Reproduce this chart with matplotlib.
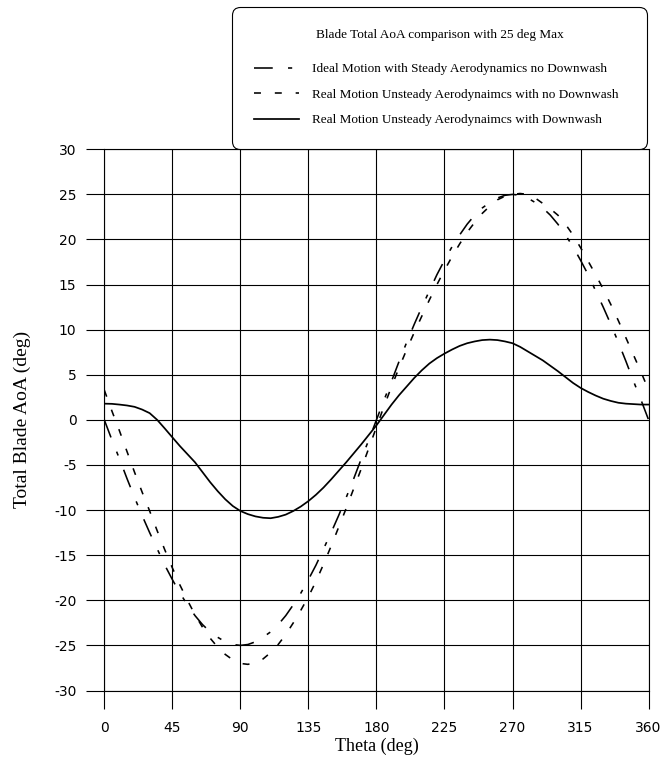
import matplotlib
matplotlib.use("Agg")
import matplotlib.pyplot as plt

plt.rcParams["lines.scale_dashes"] = False

# Rotor azimuth (deg)
theta = [0, 5, 10, 15, 20, 25, 30, 35, 40, 45, 50, 55, 60, 65, 70, 75, 80, 85,
         90, 95, 100, 105, 110, 115, 120, 125, 130, 135, 140, 145, 150, 155,
         160, 165, 170, 175, 180, 185, 190, 195, 200, 205, 210, 215, 220, 225,
         230, 235, 240, 245, 250, 255, 260, 265, 270, 275, 280, 285, 290, 295,
         300, 305, 310, 315, 320, 325, 330, 335, 340, 345, 350, 355, 360]

# Ideal motion, steady aerodynamics, no downwash
aoa_ideal = [0.0, -2.2, -4.3, -6.5, -8.6, -10.6, -12.5, -14.3, -16.1, -17.7,
             -19.2, -20.5, -21.7, -22.7, -23.5, -24.1, -24.6, -24.9, -25.0,
             -24.9, -24.6, -24.1, -23.5, -22.7, -21.7, -20.5, -19.2, -17.7,
             -16.1, -14.3, -12.5, -10.6, -8.6, -6.5, -4.3, -2.2, 0.0, 2.2, 4.3,
             6.5, 8.6, 10.6, 12.5, 14.3, 16.1, 17.7, 19.2, 20.5, 21.7, 22.7,
             23.5, 24.1, 24.6, 24.9, 25.0, 24.9, 24.6, 24.1, 23.5, 22.7, 21.7,
             20.5, 19.2, 17.7, 16.1, 14.3, 12.5, 10.6, 8.6, 6.5, 4.3, 2.2, 0.0]

# Real motion, unsteady aerodynamics, no downwash
aoa_real_nodw = [3.3, 1.0, -1.2, -3.5, -5.8, -8.0, -10.1, -12.3, -14.4, -16.4,
                 -18.3, -20.0, -21.6, -23.0, -24.2, -25.2, -26.0, -26.6, -27.0,
                 -27.1, -26.9, -26.5, -25.8, -24.9, -23.8, -22.5, -21.1, -19.6,
                 -17.9, -16.0, -14.0, -11.9, -9.8, -7.6, -5.4, -3.1, -0.8, 1.5,
                 3.7, 5.8, 7.8, 9.7, 11.5, 13.3, 15.0, 16.6, 18.1, 19.5, 20.8,
                 21.9, 22.9, 23.7, 24.4, 24.8, 25.0, 25.1, 25.0, 24.6, 24.0,
                 23.4, 22.7, 21.7, 20.5, 19.1, 17.6, 16.1, 14.5, 12.8, 11.0,
                 9.1, 7.2, 5.3, 3.3]

# Real motion, unsteady aerodynamics, with downwash
aoa_real_dw = [1.8, 1.78, 1.7, 1.6, 1.45, 1.15, 0.75, 0.0, -0.95, -1.93, -2.9,
               -3.8, -4.7, -5.8, -6.9, -7.9, -8.8, -9.55, -10.1, -10.45, -10.7,
               -10.85, -10.9, -10.75, -10.5, -10.1, -9.6, -9.0, -8.3, -7.5,
               -6.6, -5.65, -4.7, -3.7, -2.7, -1.65, -0.6, 0.55, 1.7, 2.75, 3.7,
               4.65, 5.5, 6.25, 6.85, 7.35, 7.8, 8.2, 8.5, 8.7, 8.85, 8.9, 8.85,
               8.7, 8.5, 8.1, 7.6, 7.1, 6.6, 6.0, 5.4, 4.75, 4.1, 3.55, 3.1,
               2.7, 2.35, 2.1, 1.9, 1.8, 1.75, 1.7, 1.7]

series_labels = [
    "Ideal Motion with Steady Aerodynamics no Downwash",
    "Real Motion Unsteady Aerodynaimcs with no Downwash",
    "Real Motion Unsteady Aerodynaimcs with Downwash",
]
legend_title = "Blade Total AoA comparison with 25 deg Max"

x_ticks = [0, 45, 90, 135, 180, 225, 270, 315, 360]
y_ticks = [-30, -25, -20, -15, -10, -5, 0, 5, 10, 15, 20, 25, 30]

W, H = 664, 763
fig = plt.figure(figsize=(W / 100, H / 100), dpi=100)
ax = fig.add_axes([104.3 / W, 1 - 690.5 / H, 544.3 / W, 541.2 / H])

ls_ideal = (0, (13.5, 11, 3, 11))
ls_nodw = (0, (5, 10))

h1, = ax.plot(theta, aoa_ideal, color="black", lw=1.15, linestyle=ls_ideal)
h2, = ax.plot(theta, aoa_real_nodw, color="black", lw=1.15, linestyle=ls_nodw)
h3, = ax.plot(theta, aoa_real_dw, color="black", lw=1.25, linestyle="-")

ax.set_xlim(0, 360)
ax.set_ylim(-30, 30)
ax.set_xticks(x_ticks)
ax.set_xticklabels([str(v) for v in x_ticks])
ax.set_yticks(y_ticks)
ax.set_yticklabels([str(v) for v in y_ticks])

ax.grid(True, color="black", lw=0.8)
ax.tick_params(axis="both", direction="out", length=13, width=0.8,
               color="black", labelsize=10, labelcolor="black")
ax.tick_params(axis="y", pad=7)
ax.tick_params(axis="x", pad=9)
for lab in ax.get_xticklabels() + ax.get_yticklabels():
    lab.set_family("DejaVu Sans")
for sp in ax.spines.values():
    sp.set_color("black")
    sp.set_linewidth(0.8)

serif = "Liberation Serif"
ax.set_xlabel("Theta (deg)", family=serif, fontsize=13)
ax.set_ylabel("Total Blade AoA (deg)", family=serif, fontsize=14)
ax.xaxis.set_label_coords(0.5, (690.5 - 738) / 541.2)
ax.yaxis.set_label_coords((31 - 104.3) / 544.3, 0.5)

fs = 9.5
leg = ax.legend([h1, h2, h3], series_labels, title=legend_title,
                loc="upper left",
                bbox_to_anchor=(232 / W, 1 - 148 / H, (647 - 232) / W, 141 / H),
                bbox_transform=fig.transFigure, mode="expand",
                borderpad=1.7, labelspacing=1.0, handlelength=3.4,
                handletextpad=1.0, borderaxespad=0,
                frameon=True, fancybox=True, framealpha=1,
                prop={"family": serif, "size": fs},
                title_fontproperties={"family": serif, "size": fs})
frame = leg.get_frame()
frame.set_edgecolor("black")
frame.set_linewidth(0.8)
frame.set_boxstyle("round,pad=0,rounding_size=0.62")
leg._legend_box.sep = 1.65 * fs

fig.savefig("out.png", dpi=100, facecolor="white")
